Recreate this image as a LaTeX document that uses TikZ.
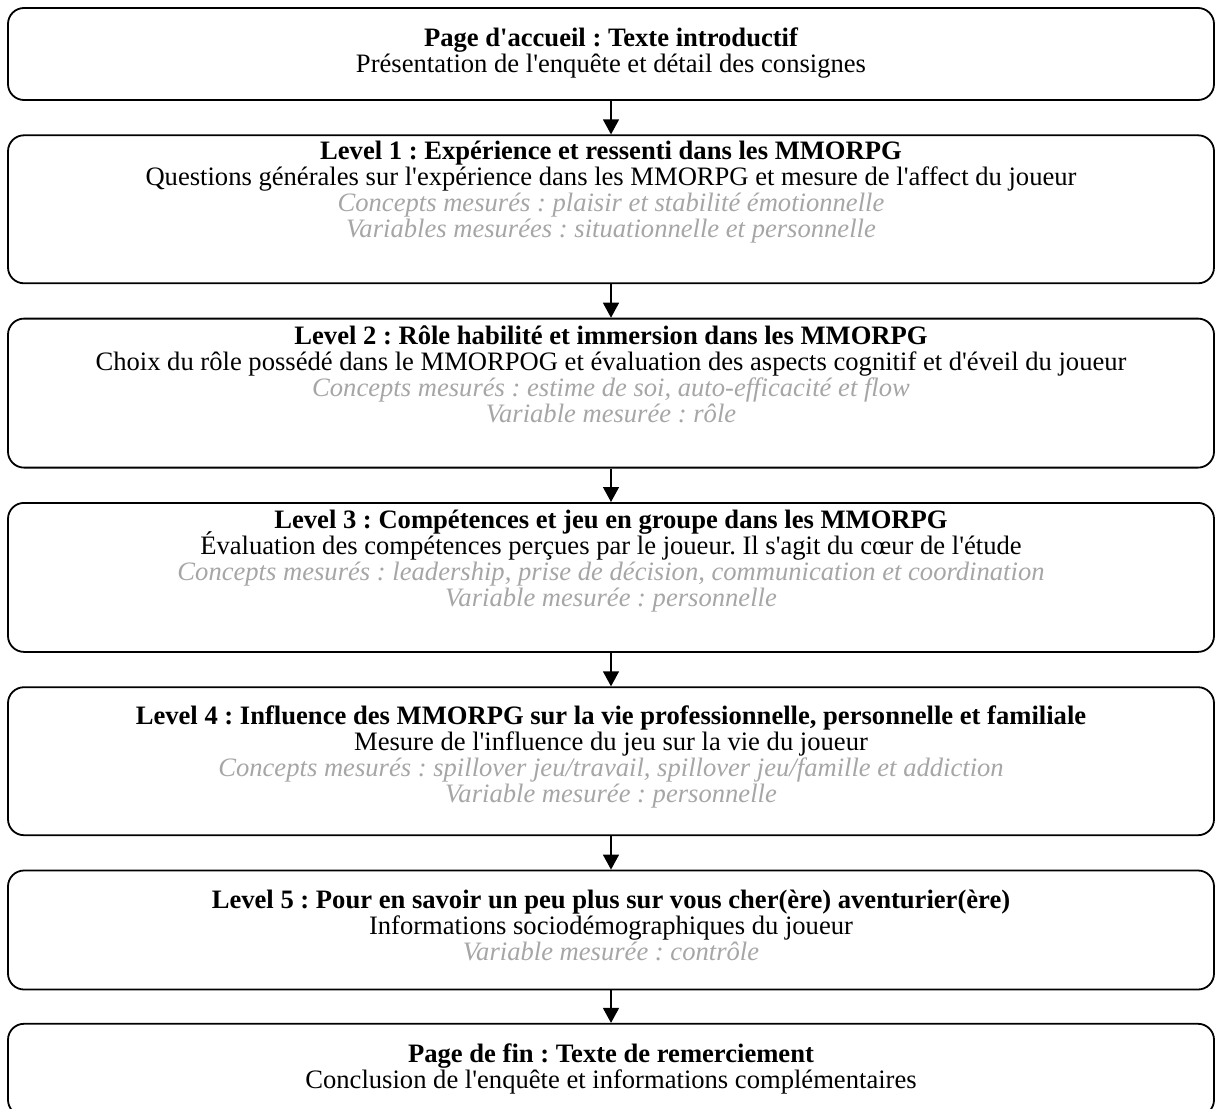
\documentclass[tikz,border=0pt]{standalone}
\usepackage{fontspec}
\setmainfont{Liberation Serif}[Ligatures=TeXOff]
\usepackage{xcolor}
\usetikzlibrary{arrows.meta,positioning}
\definecolor{linec}{HTML}{000000}
\definecolor{muted}{HTML}{A6A6A6}
\newcommand{\meas}[1]{\textcolor{muted}{\itshape #1}}
\newcommand{\boxfont}{\fontsize{13.3}{13}\selectfont\lineskiplimit=-10pt\relax}
\frenchspacing

\begin{document}
\begin{tikzpicture}[x=0.5pt, y=0.5pt, font=\boxfont, >={Triangle[width=8pt,length=7.5pt]}, node distance=16.75pt]
\useasboundingbox (0,0) rectangle (1215,-1108);
\tikzset{level/.style={draw=linec, line width=0.9pt, rounded corners=8pt, minimum width=603pt, inner sep=0pt},
  txt/.style={anchor=north, align=center, inner sep=0pt}}
\node[level,minimum height=46pt] (b1) at (611,-54) {};
\node[level,minimum height=74pt,below=of b1] (b2) {};
\node[level,minimum height=74.5pt,below=of b2] (b3) {};
\node[level,minimum height=74.5pt,below=of b3] (b4) {};
\node[level,minimum height=74pt,below=of b4] (b5) {};
\node[level,minimum height=59.5pt,below=of b5] (b6) {};
\node[level,minimum height=46pt,below=16.25pt of b6] (b7) {};
\node[txt] (t1) at ([yshift=-10pt]b1.north) {\strut\bfseries Page d'accueil : Texte introductif\\Présentation de l'enquête et détail des consignes};
\node[txt] (t2) at ([yshift=-3pt]b2.north) {\strut\bfseries Level 1 : Expérience et ressenti dans les MMORPG\\Questions générales sur l'expérience dans les MMORPG et mesure de l'affect du joueur\\\meas{Concepts mesurés : plaisir et stabilité émotionnelle}\\\meas{Variables mesurées : situationnelle et personnelle}};
\node[txt] (t3) at ([yshift=-4pt]b3.north) {\strut\bfseries Level 2 : Rôle habilité et immersion dans les MMORPG\\Choix du rôle possédé dans le MMORPOG et évaluation des aspects cognitif et d'éveil du joueur\\\meas{Concepts mesurés : estime de soi, auto-efficacité et flow}\\\meas{Variable mesurée : rôle}};
\node[txt] (t4) at ([yshift=-4pt]b4.north) {\strut\bfseries Level 3 : Compétences et jeu en groupe dans les MMORPG\\Évaluation des compétences perçues par le joueur. Il s'agit du cœur de l'étude\\\meas{Concepts mesurés : leadership, prise de décision, communication et coordination}\\\meas{Variable mesurée : personnelle}};
\node[txt] (t5) at ([yshift=-9.75pt]b5.north) {\strut\bfseries Level 4 : Influence des MMORPG sur la vie professionnelle, personnelle et familiale\\Mesure de l'influence du jeu sur la vie du joueur\\\meas{Concepts mesurés : spillover jeu/travail, spillover jeu/famille et addiction}\\\meas{Variable mesurée : personnelle}};
\node[txt] (t6) at ([yshift=-10pt]b6.north) {\strut\bfseries Level 5 : Pour en savoir un peu plus sur vous cher(ère) aventurier(ère)\\Informations sociodémographiques du joueur\\\meas{Variable mesurée : contrôle}};
\node[txt] (t7) at ([yshift=-10pt]b7.north) {\strut\bfseries Page de fin : Texte de remerciement\\Conclusion de l'enquête et informations complémentaires};
\foreach \a/\b in {b1/b2,b2/b3,b3/b4,b4/b5,b5/b6,b6/b7}{\draw[->,line width=0.7pt] (\a) -- (\b);}
\end{tikzpicture}
\end{document}
